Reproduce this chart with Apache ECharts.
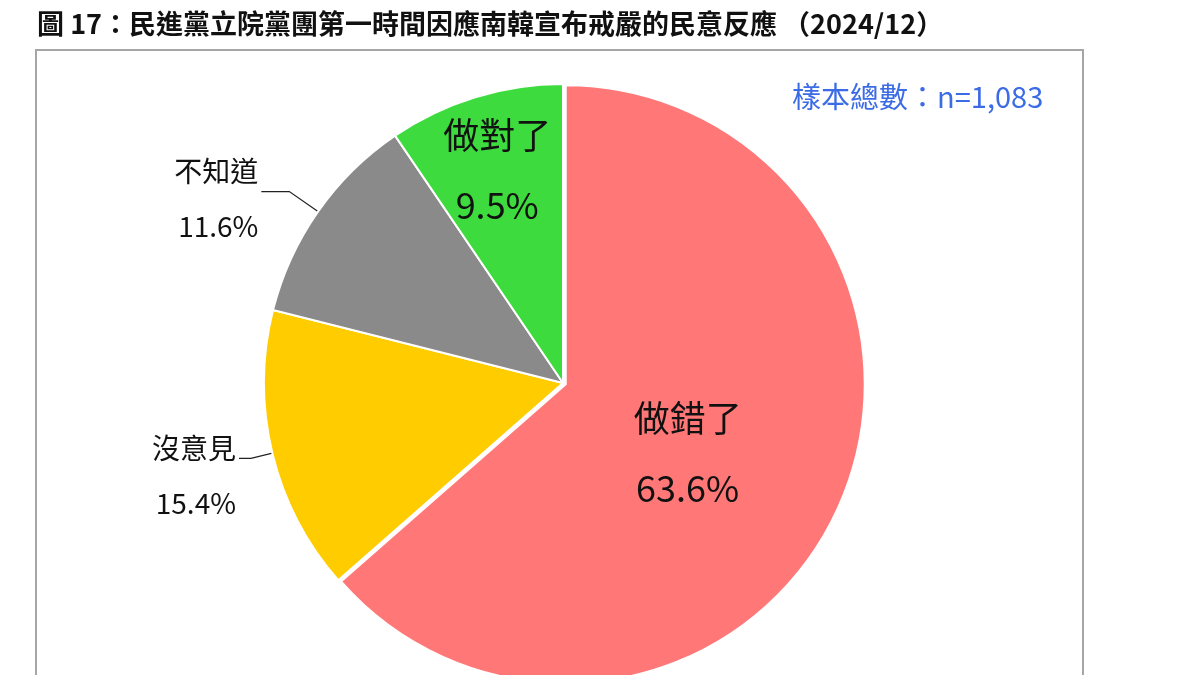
<!DOCTYPE html>
<html>
<head>
<meta charset="utf-8">
<script src="https://cdn.jsdelivr.net/npm/echarts@6/dist/echarts.min.js"></script>
<style>
html,body{margin:0;padding:0;background:#fff;}
#main{width:1200px;height:675px;}
</style>
</head>
<body>
<div id="main"></div>
<script>
const titleText = '圖 17：民進黨立院黨團第一時間因應南韓宣布戒嚴的民意反應 （2024/12）';
const sampleText = '樣本總數：n=1,083';
const categories = ['做錯了', '沒意見', '不知道', '做對了'];
const values = [63.6, 15.4, 11.6, 9.5];
const colors = ['#FF7777', '#FFCC00', '#8A8A8A', '#3DDB3D'];

const FONT = '"Noto Sans CJK TC", "Noto Sans", sans-serif';

const insideLabel = {
  show: true, position: 'inside', formatter: '{b}\n{c}%',
  fontSize: 36, lineHeight: 70, color: '#111', fontFamily: FONT
};
function outsideLabel(shift) {
  return {
    show: true, position: 'outside',
    formatter: function (p) { return '{sp| }\n{t|' + p.name + '}\n{t|' + p.value + '%}'; },
    distanceToLabelLine: 3,
    rich: {
      sp: { fontSize: 2, lineHeight: shift * 2 },
      t: { fontSize: 28, lineHeight: 55, color: '#111', fontFamily: FONT }
    }
  };
}

const labelCfg = [
  { label: insideLabel, labelLine: { show: false }, selected: true },
  { label: outsideLabel(18), labelLine: { show: true, length: 22, length2: 12 } },
  { label: outsideLabel(7), labelLine: { show: true, length: 35, length2: 28 } },
  { label: insideLabel, labelLine: { show: false } }
];

const data = categories.map((name, i) => Object.assign({
  name: name,
  value: values[i],
  itemStyle: { color: colors[i] }
}, labelCfg[i]));

const chart = echarts.init(document.getElementById('main'), null, { renderer: 'canvas' });
chart.setOption({
  backgroundColor: '#ffffff',
  animation: false,
  title: [
    { text: titleText, left: 32, top: 5,
      textStyle: { fontSize: 27, fontWeight: 'bold', color: '#111', fontFamily: FONT } },
    { text: sampleText, left: 787, top: 77,
      textStyle: { fontSize: 29, fontWeight: 'normal', color: '#3C6BE6', fontFamily: FONT } }
  ],
  graphic: [
    { type: 'rect', z: -10, shape: { x: 36, y: 50, width: 1047, height: 700 },
      style: { fill: '#ffffff', stroke: '#A6A6A6', lineWidth: 2 } }
  ],
  series: [{
    type: 'pie',
    center: [563, 383],
    radius: 299,
    startAngle: 90,
    clockwise: true,
    avoidLabelOverlap: false,
    selectedMode: 'multiple',
    selectedOffset: 3,
    itemStyle: { borderColor: '#ffffff', borderWidth: 2 },
    labelLine: { lineStyle: { color: '#222', width: 1.2 }, smooth: false },
    emphasis: { disabled: true },
    labelLayout: function (p) {
      if (p.dataIndex === 0) return { dx: -17, dy: 6 };
      if (p.dataIndex === 3) return { dx: -21, dy: -67 };
      return {};
    },
    data: data
  }]
});
</script>
</body>
</html>
